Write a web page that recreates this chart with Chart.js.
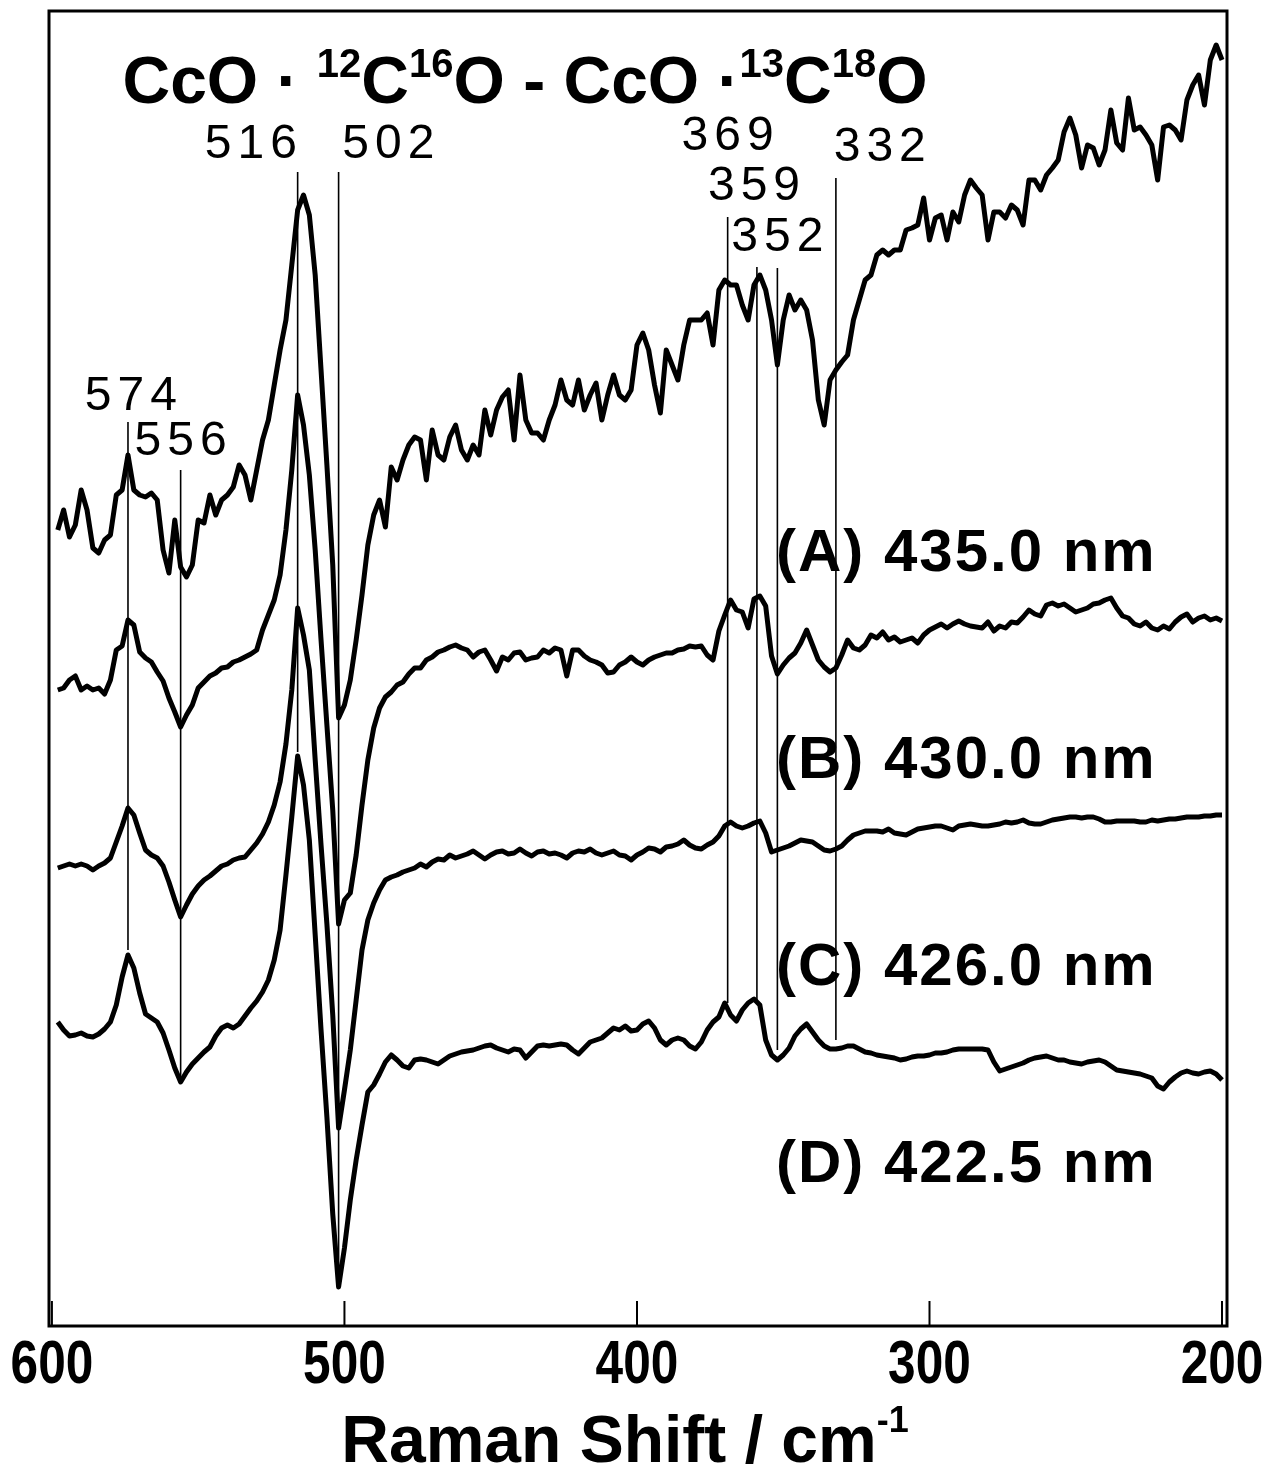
<!DOCTYPE html>
<html>
<head>
<meta charset="utf-8">
<script src="https://cdn.jsdelivr.net/npm/chart.js@4.4.1/dist/chart.umd.min.js"></script>
<style>
  html, body { margin: 0; padding: 0; background: #fff; }
  #wrap { width: 1265px; height: 1478px; }
</style>
</head>
<body>
<div id="wrap"><canvas id="ramanChart" width="1265" height="1478"></canvas></div>
<script>
// Raman shift grid (cm-1), shared by all four spectra
const shiftCm = [
  598, 596, 594, 592, 590, 588, 586, 584, 582, 580,
  578, 576, 574, 572, 570, 568, 566, 564, 562, 560,
  558, 556, 554, 552, 550, 548, 546, 544, 542, 540,
  538, 536, 534, 532, 530, 528, 526, 524, 522, 520,
  518, 516, 514, 512, 510, 508, 506, 504, 502, 500,
  498, 496, 494, 492, 490, 488, 486, 484, 482, 480,
  478, 476, 474, 472, 470, 468, 466, 464, 462, 460,
  458, 456, 454, 452, 450, 448, 446, 444, 442, 440,
  438, 436, 434, 432, 430, 428, 426, 424, 422, 420,
  418, 416, 414, 412, 410, 408, 406, 404, 402, 400,
  398, 396, 394, 392, 390, 388, 386, 384, 382, 380,
  378, 376, 374, 372, 370, 368, 366, 364, 362, 360,
  358, 356, 354, 352, 350, 348, 346, 344, 342, 340,
  338, 336, 334, 332, 330, 328, 326, 324, 322, 320,
  318, 316, 314, 312, 310, 308, 306, 304, 302, 300,
  298, 296, 294, 292, 290, 288, 286, 284, 282, 280,
  278, 276, 274, 272, 270, 268, 266, 264, 262, 260,
  258, 256, 254, 252, 250, 248, 246, 244, 242, 240,
  238, 236, 234, 232, 230, 228, 226, 224, 222, 220,
  218, 216, 214, 212, 210, 208, 206, 204, 202, 200
];

// difference spectra, arbitrary intensity (already offset for stacking)
const spectrumA = [
  800, 820, 793, 805, 840, 820, 782, 777, 790, 795,
  835, 840, 875, 840, 835, 833, 837, 830, 780, 757,
  810, 763, 753, 765, 810, 807, 835, 815, 830, 835,
  843, 865, 855, 830, 860, 890, 910, 945, 980, 1010,
  1065, 1120, 1135, 1115, 1055, 960, 865, 765, 612, 625,
  650, 690, 735, 785, 815, 830, 803, 863, 850, 870,
  885, 893, 890, 850, 900, 875, 870, 893, 905, 880,
  870, 885, 875, 920, 895, 920, 933, 940, 890, 955,
  910, 897, 897, 890, 910, 925, 950, 930, 925, 950,
  920, 935, 947, 910, 935, 955, 935, 930, 940, 985,
  997, 980, 945, 917, 980, 965, 950, 985, 1010, 1010,
  1010, 1017, 985, 1040, 1050, 1045, 1045, 1025, 1010, 1045,
  1055, 1040, 1010, 965, 1010, 1035, 1020, 1030, 1020, 990,
  930, 905, 950, 960, 968, 975, 1010, 1030, 1050, 1055,
  1075, 1080, 1075, 1080, 1080, 1100, 1102, 1105, 1132, 1090,
  1112, 1115, 1090, 1118, 1108, 1135, 1150, 1142, 1135, 1090,
  1118, 1118, 1112, 1125, 1120, 1105, 1150, 1150, 1140, 1155,
  1162, 1170, 1198, 1212, 1195, 1162, 1185, 1182, 1165, 1180,
  1220, 1187, 1180, 1232, 1200, 1203, 1195, 1185, 1150, 1203,
  1205, 1200, 1190, 1230, 1245, 1255, 1225, 1270, 1285, 1270
];

const spectrumB = [
  640, 642, 650, 654, 640, 644, 640, 642, 636, 650,
  680, 684, 710, 705, 678, 672, 668, 658, 649, 632,
  618, 603, 615, 625, 642, 648, 654, 657, 662, 663,
  668, 670, 673, 676, 680, 700, 715, 730, 755, 800,
  860, 935, 905, 855, 780, 690, 605, 520, 406, 430,
  437, 475, 525, 570, 602, 622, 633, 638, 645, 648,
  656, 662, 662, 670, 673, 678, 680, 683, 685, 682,
  680, 673, 678, 680, 670, 659, 673, 670, 677, 678,
  670, 672, 673, 680, 677, 682, 680, 654, 680, 680,
  674, 670, 668, 665, 657, 658, 665, 668, 673, 668,
  665, 670, 673, 675, 677, 677, 680, 681, 684, 683,
  684, 675, 670, 699, 715, 730, 720, 718, 702, 731,
  734, 724, 674, 656, 665, 672, 677, 687, 700, 685,
  670, 663, 658, 662, 675, 690, 682, 680, 685, 695,
  692, 698, 690, 693, 688, 690, 692, 687, 695, 700,
  703, 706, 702, 706, 709, 706, 704, 703, 702, 708,
  699, 704, 702, 708, 707, 713, 720, 716, 714, 725,
  727, 724, 726, 722, 718, 720, 722, 726, 727, 730,
  732, 722, 714, 712, 706, 704, 708, 702, 700, 704,
  701, 708, 713, 716, 708, 712, 714, 710, 712, 709
];

const spectrumC = [
  462, 464, 466, 464, 466, 464, 460, 464, 467, 472,
  488, 504, 522, 515, 497, 480, 475, 472, 464, 448,
  430, 413, 425, 436, 444, 450, 454, 459, 464, 466,
  470, 472, 473, 480, 487, 496, 508, 525, 548, 586,
  640, 722, 695, 660, 570, 485, 406, 315, 202, 240,
  280, 330, 380, 410, 427, 440, 450, 453, 455, 458,
  460, 462, 466, 463, 468, 471, 470, 475, 472, 474,
  476, 479, 475, 471, 475, 478, 479, 476, 477, 481,
  477, 474, 478, 479, 476, 477, 475, 472, 477, 479,
  478, 481, 477, 475, 477, 479, 475, 474, 470, 475,
  478, 482, 481, 478, 483, 484, 486, 490, 485, 482,
  481, 485, 488, 494, 504, 508, 504, 502, 504, 507,
  509, 497, 478, 480, 482, 484, 487, 490, 489, 488,
  484, 480, 479, 481, 484, 490, 495, 497, 499, 499,
  499, 498, 501, 497, 496, 495, 498, 501, 502, 503,
  504, 504, 502, 500, 504, 505, 506, 505, 504, 504,
  505, 506, 508, 507, 508, 510, 507, 506, 506, 508,
  510, 511, 512, 513, 513, 512, 513, 513, 511, 508,
  508, 509, 509, 509, 509, 508, 508, 510, 509, 510,
  511, 511, 512, 513, 513, 513, 514, 514, 515, 515
];

const spectrumD = [
  308, 300, 294, 295, 297, 294, 293, 296, 301, 308,
  325, 353, 375, 362, 337, 316, 312, 308, 297, 280,
  262, 248, 258, 266, 272, 278, 283, 294, 302, 305,
  302, 306, 314, 322, 329, 338, 350, 370, 400, 455,
  513, 574, 545, 490, 395, 300, 213, 116, 43, 82,
  130, 170, 205, 238, 245, 256, 268, 275, 270, 264,
  262, 270, 271, 270, 268, 266, 270, 274, 276, 278,
  279, 280, 282, 284, 285, 282, 280, 278, 281, 280,
  272, 278, 284, 285, 284, 285, 286, 285, 280, 276,
  282, 288, 290, 292, 297, 302, 300, 304, 299, 300,
  306, 309, 302, 290, 285, 290, 292, 290, 284, 281,
  288, 300, 308, 313, 327, 315, 309, 320, 327, 331,
  325, 290, 275, 270, 275, 282, 294, 301, 306, 298,
  290, 284, 281, 281, 282, 284, 284, 281, 278, 277,
  275, 274, 273, 272, 270, 271, 273, 274, 274, 275,
  277, 277, 278, 280, 281, 281, 281, 281, 281, 280,
  268, 259, 261, 263, 265, 267, 270, 272, 273, 274,
  272, 270, 270, 268, 267, 266, 268, 269, 270, 268,
  264, 260, 259, 258, 257, 256, 254, 252, 244, 241,
  248, 253, 257, 259, 257, 256, 258, 259, 256, 250
];

// marked band positions and the intensity range each guide line spans
const markerCm = [574, 556, 516, 502, 369, 359, 352, 332];
const markerTop = [908, 860, 1158, 1158, 1113, 1063, 1062, 1152];
const markerBottom = [380, 252, 578, 43, 327, 330, 280, 290];

const tickValues = [600, 500, 400, 300, 200];
const traceNames = ['(A) 435.0 nm', '(B) 430.0 nm', '(C) 426.0 nm', '(D) 422.5 nm'];

const FONT = '"Liberation Sans", Arial, Helvetica, sans-serif';

// where the text goes (x in cm-1, y in intensity units)
const peakLabelAt = [[573, 933], [556, 888], [532, 1185], [485, 1185], [369, 1193], [360, 1143], [352, 1092], [317, 1182]];
const traceLabelAt = [[352.5, 759], [352.5, 552], [352.5, 345], [352.5, 148]];

function drawRuns(ctx, runs, x, baseline, align) {
    let total = 0;
    runs.forEach(r => {
        ctx.font = `${r.weight} ${r.size}px ${FONT}`;
        r.w = ctx.measureText(r.text).width;
        total += r.w;
    });
    let cx = align === 'center' ? x - total / 2 : x;
    ctx.textAlign = 'left';
    ctx.textBaseline = 'alphabetic';
    runs.forEach(r => {
        ctx.font = `${r.weight} ${r.size}px ${FONT}`;
        ctx.fillText(r.text, cx, baseline - (r.rise || 0));
        cx += r.w;
    });
}

const decorPlugin = {
    id: 'decor',
    afterDraw(chart) {
        const { ctx, chartArea: a, scales: { x, y } } = chart;
        ctx.save();
        ctx.strokeStyle = '#000';
        ctx.fillStyle = '#000';

        // frame and inward ticks
        ctx.lineWidth = 3;
        ctx.strokeRect(a.left, a.top, a.right - a.left, a.bottom - a.top);
        ctx.lineWidth = 2;
        x.ticks.forEach(t => {
            const px = x.getPixelForValue(t.value);
            ctx.beginPath();
            ctx.moveTo(px, a.bottom);
            ctx.lineTo(px, a.bottom - 25);
            ctx.stroke();
        });

        // tick labels, slightly condensed like the original
        ctx.font = `bold 62px ${FONT}`;
        ctx.textAlign = 'center';
        ctx.textBaseline = 'alphabetic';
        x.ticks.forEach(t => {
            const px = x.getPixelForValue(t.value);
            ctx.save();
            ctx.translate(px, a.bottom + 57);
            ctx.scale(0.8, 1);
            ctx.fillText(String(t.value), 0, 0);
            ctx.restore();
        });

        // band labels
        ctx.font = `48px ${FONT}`;
        ctx.letterSpacing = '6px';
        ctx.textAlign = 'left';
        ctx.textBaseline = 'middle';
        markerCm.forEach((v, i) => {
            const txt = String(v);
            const w = ctx.measureText(txt).width - 6;
            const [lx, ly] = peakLabelAt[i];
            ctx.fillText(txt, x.getPixelForValue(lx) - w / 2, y.getPixelForValue(ly));
        });

        // trace labels
        ctx.letterSpacing = '2px';
        ctx.font = `bold 60px ${FONT}`;
        ctx.textBaseline = 'alphabetic';
        traceNames.forEach((t, i) => {
            const [lx, ly] = traceLabelAt[i];
            ctx.fillText(t, x.getPixelForValue(lx), y.getPixelForValue(ly));
        });
        ctx.letterSpacing = '0px';

        // title
        const big = { weight: 'bold', size: 66 };
        const sup = { weight: 'bold', size: 40, rise: 26 };
        drawRuns(ctx, [
            { ...big, text: 'CcO · ' }, { ...sup, text: '12' }, { ...big, text: 'C' },
            { ...sup, text: '16' }, { ...big, text: 'O - CcO ·' }, { ...sup, text: '13' },
            { ...big, text: 'C' }, { ...sup, text: '18' }, { ...big, text: 'O' }
        ], 525, 103, 'center');

        // x axis title
        drawRuns(ctx, [
            { weight: 'bold', size: 66, text: 'Raman Shift / cm' },
            { weight: 'bold', size: 36, rise: 30, text: '-1' }
        ], 625, 1462, 'center');

        ctx.restore();
    }
};

const datasets = [spectrumA, spectrumB, spectrumC, spectrumD].map((vals, i) => ({
    label: traceNames[i],
    data: vals.map((v, j) => ({ x: shiftCm[j], y: v })),
    borderColor: '#000',
    borderWidth: 5,
    pointRadius: 0,
    tension: 0,
    borderJoinStyle: 'round'
}));

markerCm.forEach((v, i) => {
    datasets.push({
        label: v + ' cm-1',
        data: [{ x: v, y: markerBottom[i] }, { x: v, y: markerTop[i] }],
        borderColor: '#000',
        borderWidth: 1.6,
        pointRadius: 0
    });
});

new Chart(document.getElementById('ramanChart'), {
    type: 'line',
    data: { datasets },
    options: {
        responsive: false,
        animation: false,
        layout: { padding: { left: 49, right: 38, top: 11, bottom: 0 } },
        plugins: {
            legend: { display: false },
            tooltip: { enabled: false }
        },
        scales: {
            x: {
                type: 'linear',
                reverse: true,
                min: 198.3,
                max: 601,
                grid: { display: false, drawTicks: false },
                border: { display: false },
                afterBuildTicks: (scale) => { scale.ticks = tickValues.map(v => ({ value: v })); },
                afterFit: (scale) => {
                    scale.height = 152;
                    scale.paddingLeft = 0;
                    scale.paddingRight = 0;
                },
                ticks: { display: false }
            },
            y: {
                display: false,
                min: 4,
                max: 1319
            }
        }
    },
    plugins: [decorPlugin]
});
</script>
</body>
</html>
